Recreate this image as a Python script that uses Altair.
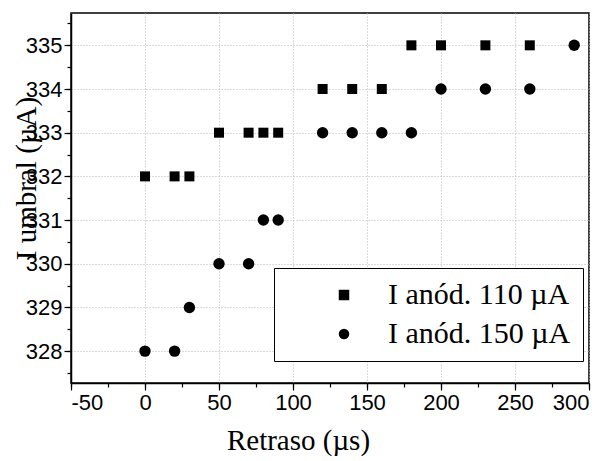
import altair as alt
import pandas as pd

delay_110 = [0, 20, 30, 50, 70, 80, 90, 120, 140, 160, 180, 200, 230, 260]
i_110 = [332, 332, 332, 333, 333, 333, 333, 334, 334, 334, 335, 335, 335, 335]
delay_150 = [0, 20, 30, 50, 70, 80, 90, 120, 140, 160, 180, 200, 230, 260, 290]
i_150 = [328, 328, 329, 330, 330, 331, 331, 333, 333, 333, 333, 334, 334, 334, 335]
series_names = ["I anód. 110 µA", "I anód. 150 µA"]
x_ticks = [-50, 0, 50, 100, 150, 200, 250, 300]
x_minor = [-50, -25, 0, 25, 50, 75, 100, 125, 150, 175, 200, 225, 250, 275, 300]
y_ticks = [328, 329, 330, 331, 332, 333, 334, 335]
y_minor = [327.5, 328, 328.5, 329, 329.5, 330, 330.5, 331, 331.5, 332, 332.5,
           333, 333.5, 334, 334.5, 335, 335.5]
x_domain = [-50, 300]
y_domain = [327.27, 335.74]

rows = []
for d, v in zip(delay_110, i_110):
    rows.append({"delay": d, "current": v, "series": series_names[0]})
for d, v in zip(delay_150, i_150):
    rows.append({"delay": d, "current": v, "series": series_names[1]})
df = pd.DataFrame(rows)

xs = alt.Scale(domain=x_domain, nice=False, zero=False)
ys = alt.Scale(domain=y_domain, nice=False, zero=False)

minor = alt.Chart(df).mark_point(opacity=0).encode(
    x=alt.X("delay:Q", scale=xs,
            axis=alt.Axis(orient="bottom", values=x_minor, labels=False, grid=False,
                          domain=False, tickSize=4, tickColor="black", tickWidth=1.2, title=None)),
    y=alt.Y("current:Q", scale=ys,
            axis=alt.Axis(orient="left", values=y_minor, labels=False, grid=False,
                          domain=False, tickSize=4, tickColor="black", tickWidth=1.2, title=None)),
)

main = alt.Chart(df).mark_point(filled=True, opacity=1, color="black").encode(
    x=alt.X("delay:Q", scale=xs,
            axis=alt.Axis(orient="bottom", values=x_ticks, grid=True, gridDash=[1, 2],
                          gridColor="#b8b8b8", gridWidth=1, tickSize=7, tickColor="black",
                          tickWidth=1.2, domainColor="black", domainWidth=1.5,
                          labelFont="Liberation Sans", labelFontSize=22, labelColor="black",
                          labelPadding=2, labelExpr="'' + datum.value",
                          title="Retraso (µs)", titleFont="Liberation Serif", titleFontSize=29,
                          titleFontWeight="normal", titleColor="black", titleX=227, titleY=66,
                          titleBaseline="alphabetic", titleAlign="center")),
    y=alt.Y("current:Q", scale=ys,
            axis=alt.Axis(orient="left", values=y_ticks, grid=True, gridDash=[1, 2],
                          gridColor="#b8b8b8", gridWidth=1, tickSize=7, tickColor="black",
                          tickWidth=1.2, domainColor="black", domainWidth=1.5,
                          labelFont="Liberation Sans", labelFontSize=22, labelColor="black",
                          labelPadding=2,
                          title="I umbral (µA)", titleFont="Liberation Serif", titleFontSize=29,
                          titleFontWeight="normal", titleColor="black", titleX=-36, titleY=165,
                          titleBaseline="alphabetic", titleAlign="center", titleAngle=270)),
    shape=alt.Shape("series:N", scale=alt.Scale(domain=series_names, range=["square", "circle"]),
                    legend=alt.Legend(title=None, orient="none", legendX=203, legendY=255,
                                      strokeColor="black", fillColor="white", padding=12,
                                      symbolOffset=43, labelOffset=29, rowPadding=9,
                                      labelFont="Liberation Serif", labelFontSize=30,
                                      labelColor="black", symbolSize=110, labelLimit=400,
                                      symbolFillColor="black", symbolStrokeColor="black")),
    size=alt.condition(alt.datum.series == series_names[0], alt.value(100), alt.value(130)),
)

chart = alt.layer(minor, main).resolve_scale(x="independent", y="independent").properties(
    width=518, height=370, autosize="none",
    padding={"left": 63, "top": 5, "right": 16, "bottom": 78},
).configure_view(stroke="black", strokeWidth=1.5)

chart.save("out.html", embed_options={"renderer": "svg", "actions": False})
